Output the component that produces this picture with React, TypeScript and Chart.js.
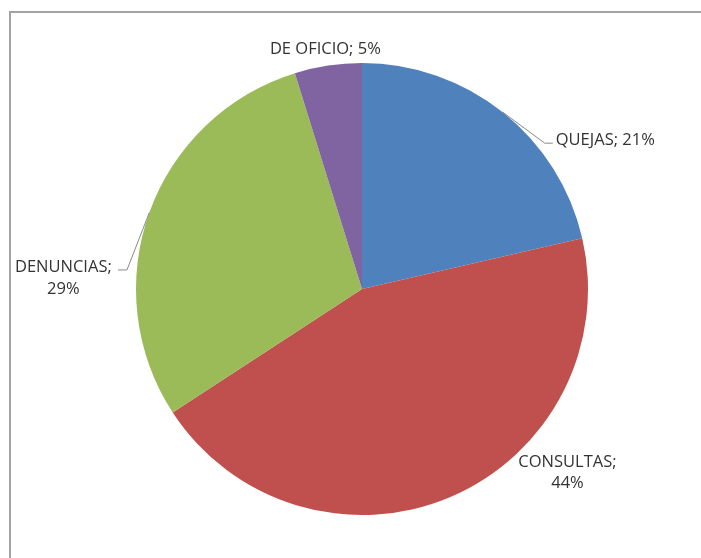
import React, { useEffect, useRef } from "react";
import { Chart, registerables } from "chart.js";

Chart.register(...registerables);

const categories = ["QUEJAS", "CONSULTAS", "DENUNCIAS", "DE OFICIO"];
const values = [21.4, 44.4, 29.4, 4.8];
const colors = ["#4F81BD", "#C0504D", "#9BBB59", "#8064A2"];
const splitLabel = [false, true, true, false];

// label placement relative to each slice's outer mid-point
const labelLayouts = [
  { dx: 53, dy: 28, align: "left", lineGap: 22, leader: [[42, 31], [50, 31]] },
  { dx: 117, dy: -35, align: "center", lineGap: 21, leader: null },
  { dx: -86, dy: 54.5, align: "center", lineGap: 22, leader: [[-22.4, 57.5], [-31.4, 57.5]] },
  { dx: -2.7, dy: -16.5, align: "center", lineGap: 22, leader: null },
];

const labelPlugin = {
  id: "excelLabels",
  afterDatasetsDraw(chart: any) {
    const ctx = chart.ctx;
    const meta = chart.getDatasetMeta(0);
    const data = chart.data.datasets[0].data as number[];
    const total = data.reduce((a, b) => a + b, 0);
    ctx.save();
    meta.data.forEach((arc: any, i: number) => {
      const { x, y, outerRadius, startAngle, endAngle } = arc.getProps(
        ["x", "y", "outerRadius", "startAngle", "endAngle"],
        true
      );
      const mid = (startAngle + endAngle) / 2;
      const ex = x + Math.cos(mid) * outerRadius;
      const ey = y + Math.sin(mid) * outerRadius;
      const lay = labelLayouts[i];
      const pct = Math.round((data[i] / total) * 100);
      const lines = splitLabel[i]
        ? [categories[i] + ";", pct + "%"]
        : [categories[i] + "; " + pct + "%"];
      if (lay.leader) {
        ctx.strokeStyle = "#8a8a8a";
        ctx.lineWidth = 1;
        ctx.beginPath();
        ctx.moveTo(ex, ey);
        lay.leader.forEach((p) => ctx.lineTo(ex + p[0], ey + p[1]));
        ctx.stroke();
      }
      ctx.fillStyle = "#333333";
      ctx.font = '16.5px "Open Sans"';
      ctx.textAlign = lay.align as CanvasTextAlign;
      ctx.textBaseline = "middle";
      lines.forEach((t, k) => {
        ctx.fillText(t, ex + lay.dx, ey + lay.dy + k * lay.lineGap);
      });
    });
    ctx.restore();
  },
};

export default function App() {
  const ref = useRef<HTMLCanvasElement>(null);
  useEffect(() => {
    if (!ref.current) return;
    const chart = new Chart(ref.current, {
      type: "pie",
      data: {
        labels: categories,
        datasets: [
          {
            data: values,
            backgroundColor: colors,
            borderWidth: 0,
          },
        ],
      },
      options: {
        responsive: false,
        animation: false,
        devicePixelRatio: 1,
        layout: { padding: { left: 136, right: 113, top: 63, bottom: 43 } },
        plugins: {
          legend: { display: false },
          tooltip: { enabled: false },
        },
      },
      plugins: [labelPlugin],
    });
    return () => chart.destroy();
  }, []);
  return (
    <div
      style={{
        position: "fixed",
        left: 0,
        top: 0,
        width: 701,
        height: 558,
        background: "#fff",
      }}
    >
      <div
        style={{
          position: "absolute",
          left: 9,
          top: 11,
          right: 0,
          bottom: 0,
          borderTop: "2px solid #a3a3a3",
          borderLeft: "2px solid #a3a3a3",
        }}
      />
      <canvas
        ref={ref}
        width={701}
        height={558}
        style={{ position: "absolute", left: 0, top: 0 }}
      />
    </div>
  );
}
